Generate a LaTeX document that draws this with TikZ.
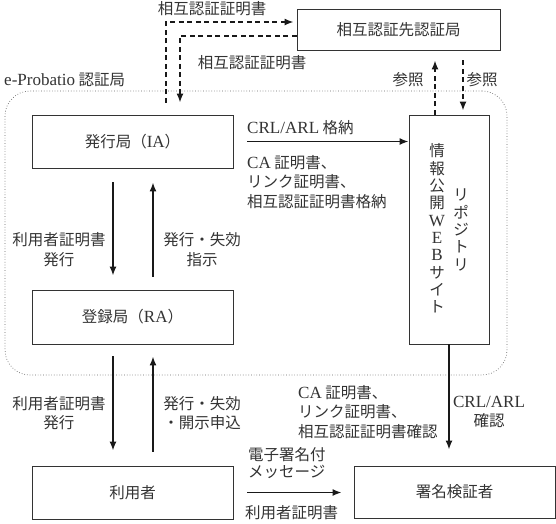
\documentclass[tikz,border=0pt]{standalone}
\usepackage{fontspec}
\setmainfont{Noto Sans CJK JP}
\newfontfamily\lat[Scale=1.1]{Liberation Serif}
\usetikzlibrary{arrows.meta,calc}
\begin{document}
\begin{tikzpicture}[x=1pt,y=-1pt,
 box/.style={draw=black!80, line width=0.9pt, inner sep=0pt, text=black!80},
 lbl/.style={inner sep=0pt, text=black!80, align=center},
 lbll/.style={inner sep=0pt, text=black!80, align=left},
 arr/.style={line width=1.5pt, draw=black!90, -{Latex[length=9pt,width=7pt]}},
 darr/.style={arr, dash pattern=on 5pt off 3.5pt},
 font=\fontsize{15.5}{19.5}\selectfont]
\useasboundingbox (0,0) rectangle (556,523);
% group border
\node[draw=black!60, dotted, line width=0.7pt, rounded corners=25pt, minimum width=502pt, minimum height=284pt, inner sep=0pt] (CA) at (256,233) {};
% boxes
\node[box, minimum width=203pt, minimum height=41pt] (XCA) at (398.5,29.5) {相互認証先認証局};
\node[box, minimum width=201pt, minimum height=53pt] (IA) at (132.5,141.5) {発行局（{\lat IA}）};
\node[box, minimum width=201pt, minimum height=54pt] (RA) at (132.5,317) {登録局（{\lat RA}）};
\node[box, minimum width=201pt, minimum height=53pt] (USR) at (132.5,492.5) {利用者};
\node[box, minimum width=201pt, minimum height=52pt] (SIG) at (454.5,492) {署名検証者};
\node[box, minimum width=80pt, minimum height=229pt] (REPO) at (449,229.5) {};
\node[lbl, font=\fontsize{15.5}{15.9}\selectfont] (V1) at (437,228.5) {情\\[1.4pt]報\\[1.4pt]公\\[1.4pt]開\\[1.4pt]{\lat W}\\[1.4pt]{\lat E}\\[1.4pt]{\lat B}\\[1.4pt]サ\\[1.4pt]イ\\[1.4pt]ト};
\node[lbl, font=\fontsize{15.5}{16}\selectfont] (V2) at (461,230) {リ\\[1.4pt]ポ\\[1.4pt]ジ\\[1.4pt]ト\\[1.4pt]リ};
% connectors
\draw[arr, shorten <=14pt, shorten >=14pt] ([xshift=-19.5pt]IA.south) -- ([xshift=-19.5pt]RA.north);
\draw[arr, shorten <=13pt, shorten >=14pt] ([xshift=20.5pt]RA.north) -- ([xshift=20.5pt]IA.south);
\draw[arr, shorten <=12pt, shorten >=15pt] ([xshift=-19.5pt]RA.south) -- ([xshift=-19.5pt]USR.north);
\draw[arr, shorten <=14pt, shorten >=12pt] ([xshift=20.5pt]USR.north) -- ([xshift=20.5pt]RA.south);
\draw[arr, shorten <=14pt] (IA.east) -- (IA.east -| REPO.west);
\draw[arr, shorten <=14pt, shorten >=12pt] (USR.east) -- (USR.east -| SIG.west);
\draw[arr, shorten >=16pt] (REPO.south) -- (REPO.south |- SIG.north);
\draw[darr, shorten >=10pt] ([xshift=-14pt]REPO.north) -- ([xshift=-14pt]REPO.north |- XCA.south);
\draw[darr, shorten <=10pt, shorten >=4pt] ([xshift=14pt]REPO.north |- XCA.south) -- ([xshift=14pt]REPO.north);
\draw[darr, shorten <=12pt, shorten >=3pt] ([xshift=33.5pt]IA.north) |- ([yshift=7.5pt]XCA.west);
\draw[darr, shorten >=12pt] ([yshift=-6.5pt]XCA.west) -| ([xshift=47.5pt]IA.north);
% labels
\node[lbl] (L1) at (212,9) {相互認証証明書};
\node[lbl] (L2) at (252,63) {相互認証証明書};
\node[lbll, anchor=west] (L3) at (4,80) {{\lat e-Probatio} 認証局};
\node[lbl] (L4) at (408,80) {参照};
\node[lbl] (L5) at (482,80) {参照};
\node[lbll, anchor=west] (L6) at (247,128) {{\lat CRL/ARL} 格納};
\node[lbll, anchor=north west] (L7) at (247,155) {{\lat CA} 証明書、\\リンク証明書、\\相互認証証明書格納};
\node[lbl] (L8) at (59,249.5) {利用者証明書\\発行};
\node[lbl] (L9) at (202,249.5) {発行・失効\\指示};
\node[lbl] (L10) at (59,413) {利用者証明書\\発行};
\node[lbl] (L11) at (202,413) {発行・失効\\・開示申込};
\node[lbll, anchor=north west] (L12) at (298,385) {{\lat CA} 証明書、\\リンク証明書、\\相互認証証明書確認};
\node[lbl] (L13) at (489,412) {{\lat CRL/ARL}\\確認};
\node[lbll, anchor=west, font=\fontsize{15.5}{17}\selectfont] (L14) at (248,463.5) {電子署名付\\メッセージ};
\node[lbll, anchor=west] (L15) at (245,513) {利用者証明書};
\end{tikzpicture}
\end{document}
